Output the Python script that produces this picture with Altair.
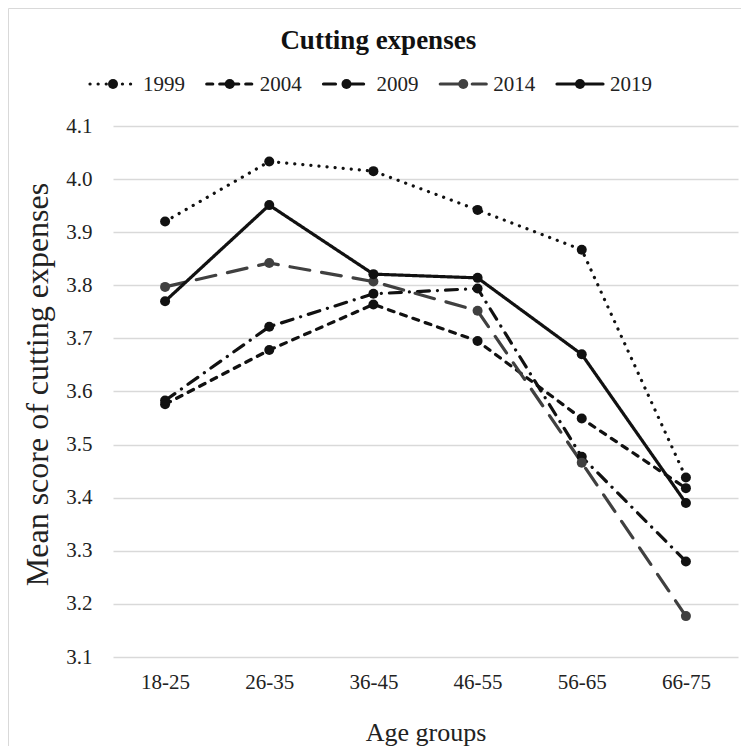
import altair as alt
import pandas as pd

FONT = "Liberation Serif"

ages = ["18-25", "26-35", "36-45", "46-55", "56-65", "66-75"]
years = ["1999", "2004", "2009", "2014", "2019"]
v1999 = [3.920, 4.033, 4.015, 3.942, 3.867, 3.438]
v2004 = [3.576, 3.678, 3.764, 3.695, 3.549, 3.418]
v2009 = [3.583, 3.722, 3.784, 3.794, 3.477, 3.280]
v2014 = [3.797, 3.842, 3.807, 3.752, 3.466, 3.177]
v2019 = [3.770, 3.951, 3.821, 3.814, 3.670, 3.390]
y_ticks = [3.1, 3.2, 3.3, 3.4, 3.5, 3.6, 3.7, 3.8, 3.9, 4.0, 4.1]

series = {"1999": v1999, "2004": v2004, "2009": v2009, "2014": v2014, "2019": v2019}
rows = [{"Age": a, "Year": y, "Score": v}
        for y, vals in series.items() for a, v in zip(ages, vals)]
df = pd.DataFrame(rows)
leg = pd.DataFrame({"Year": years})
frame_df = pd.DataFrame({"k": [0]})

colors = ["#111111", "#111111", "#111111", "#404040", "#111111"]
dashes = [[0.1, 8], [6, 7], [12, 8, 0.1, 8], [20, 12], [1, 0]]

W, H = 625, 531

color = alt.Color("Year:N", scale=alt.Scale(domain=years, range=colors), legend=None)
dash = alt.StrokeDash("Year:N", scale=alt.Scale(domain=years, range=dashes), legend=None)

x_enc = alt.X("Age:N", sort=ages, title="Age groups",
              axis=alt.Axis(labelAngle=0, grid=False, domain=False, ticks=False,
                            labelPadding=14, titlePadding=27))
y_enc = alt.Y("Score:Q", title="Mean score of cutting expenses",
              scale=alt.Scale(domain=[3.1, 4.1], nice=False, zero=False),
              axis=alt.Axis(values=y_ticks, format=".1f", domain=False, ticks=False,
                            labelPadding=21, titlePadding=11, titleFontSize=32,
                            titleY=258))

lines = alt.Chart(df).mark_line(strokeWidth=3.2, strokeCap="round", strokeJoin="round").encode(
    x=x_enc, y=y_enc, color=color, strokeDash=dash)
points = alt.Chart(df).mark_circle(size=100, opacity=1).encode(
    x=x_enc, y=y_enc, color=color)

data_layer = alt.layer(lines, points)

lx = alt.X("Year:N", sort=years,
           scale=alt.Scale(type="point", domain=years, range=[0, 467], padding=0),
           axis=None)
leg_rule = alt.Chart(leg).mark_rule(strokeWidth=3.2, strokeCap="round",
                                    xOffset=-23, x2Offset=23).encode(
    x=lx, x2=alt.X2("Year:N"), y=alt.value(-42), color=color, strokeDash=dash)
leg_pt = alt.Chart(leg).mark_circle(size=100, opacity=1).encode(
    x=lx, y=alt.value(-42), color=color)
leg_txt = alt.Chart(leg).mark_text(align="left", baseline="middle", dx=30, dy=1,
                                   font=FONT, fontSize=21, color="#222222").encode(
    x=lx, y=alt.value(-42), text="Year:N")

border_l = alt.Chart(frame_df).mark_rule(color="#d9d9d9", strokeWidth=1).encode(
    x=alt.value(-104.5), y=alt.value(-117.5), y2=alt.value(H + 95))
border_t = alt.Chart(frame_df).mark_rule(color="#d9d9d9", strokeWidth=1).encode(
    x=alt.value(-104.5), x2=alt.value(W + 10), y=alt.value(-117.5))

chart = alt.layer(
    data_layer, leg_rule, leg_pt, leg_txt, border_l, border_t
).resolve_scale(x="independent").properties(
    width=W, height=H,
    title=alt.TitleParams("Cutting expenses", font=FONT, fontSize=27, fontWeight="bold",
                          color="#111111", anchor="middle", frame="bounds", offset=-47),
    autosize=alt.AutoSizeParams(type="none"),
    padding={"left": 105, "top": 118, "right": 3, "bottom": 89},
).configure_view(stroke=None).configure_axis(
    labelFont=FONT, labelFontSize=21, labelColor="#222222",
    titleFont=FONT, titleFontSize=26, titleColor="#222222", titleFontWeight="normal",
    gridColor="#d9d9d9", gridWidth=1.3,
)

chart.save("out.html", embed_options={"renderer": "svg", "actions": False})
